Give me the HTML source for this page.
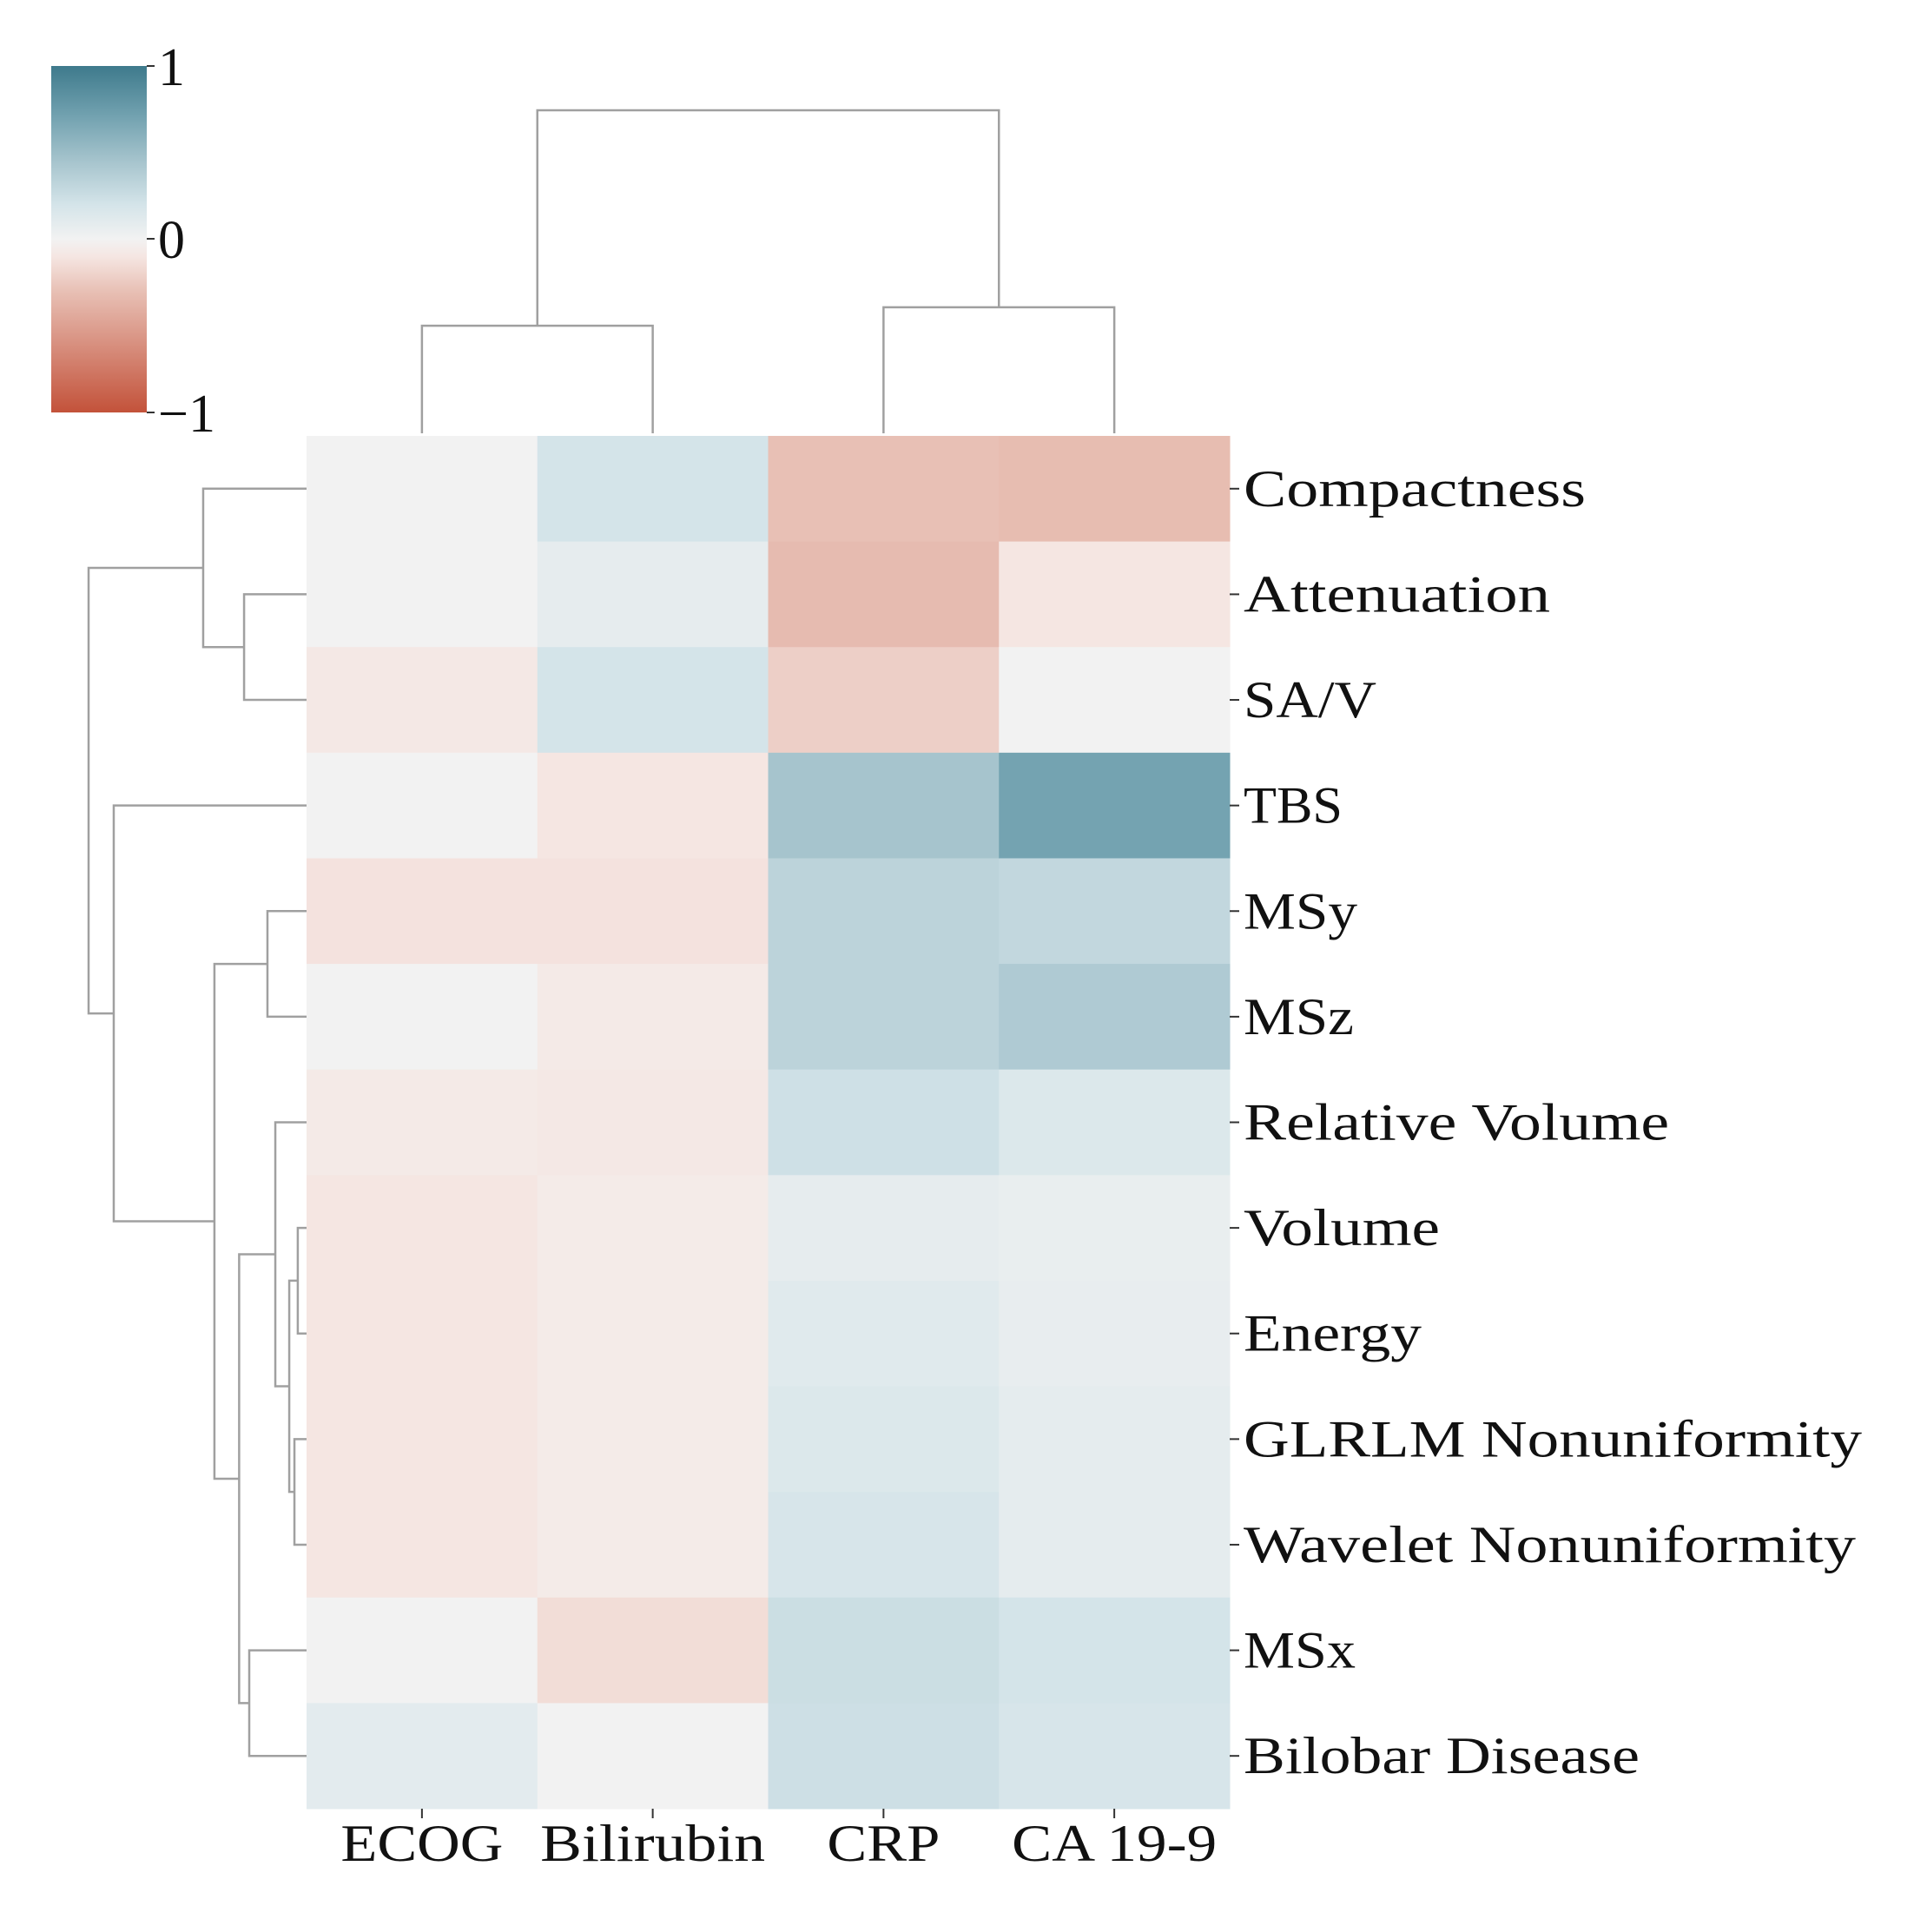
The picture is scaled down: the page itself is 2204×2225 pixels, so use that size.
<!DOCTYPE html>
<html><head><meta charset="utf-8"><style>
html,body{margin:0;padding:0;background:#fff;}
svg{display:block;}
text{font-family:"Liberation Serif",serif;fill:#111;}
</style></head><body>
<svg id="chart" width="2204" height="2225" viewBox="0 0 2204 2225" xmlns="http://www.w3.org/2000/svg">
<defs>
<linearGradient id="cbar" x1="0" y1="1" x2="0" y2="0">
<stop offset="0" stop-color="#c3523a"/>
<stop offset="0.35" stop-color="#e8c0b5"/>
<stop offset="0.45" stop-color="#f5e6e2"/>
<stop offset="0.5" stop-color="#f2f2f2"/>
<stop offset="0.6" stop-color="#d4e4e9"/>
<stop offset="0.725" stop-color="#a6c4cd"/>
<stop offset="0.85" stop-color="#74a3b1"/>
<stop offset="1" stop-color="#3e7a8c"/>
</linearGradient>
</defs>
<g id="colorbar">
<rect x="59" y="76" width="110" height="399" fill="url(#cbar)"/>
<line x1="169" y1="76" x2="178" y2="76" stroke="#333" stroke-width="2"/>
<line x1="169" y1="275" x2="178" y2="275" stroke="#333" stroke-width="2"/>
<line x1="169" y1="475" x2="178" y2="475" stroke="#333" stroke-width="2"/>
<text x="182" y="98" font-size="62">1</text>
<text x="182" y="297" font-size="62">0</text>
<text x="182" y="497" font-size="62">−1</text>
</g>
<g id="heat"></g>
<g id="dendro" fill="none" stroke="#a0a0a0" stroke-width="2.5"></g>
<g id="labels"></g>
</svg>
<script>
const rowLabels = ["Compactness","Attenuation","SA/V","TBS","MSy","MSz","Relative Volume","Volume","Energy","GLRLM Nonuniformity","Wavelet Nonuniformity","MSx","Bilobar Disease"];
const colLabels = ["ECOG","Bilirubin","CRP","CA 19-9"];
const ecogValues = [0,0,-0.08,0,-0.12,0,-0.07,-0.1,-0.1,-0.1,-0.1,0,0.1];
const bilirubinValues = [0.2,0.08,0.2,-0.1,-0.12,-0.07,-0.08,-0.06,-0.06,-0.06,-0.06,-0.15,0];
const crpValues = [-0.3,-0.33,-0.22,0.45,0.33,0.33,0.23,0.08,0.12,0.15,0.18,0.25,0.24];
const ca199Values = [-0.32,-0.1,0,0.7,0.3,0.4,0.15,0.06,0.07,0.09,0.09,0.2,0.18];
const rowLabelWidths = [394,353,153,114,131,127,490,226,205,712,705,129,456];
const colLabelWidths = [187,259,130,236];
// dendrogram merges [nodeA, nodeB, distance]; new nodes numbered after leaves
const rowLinks = [[1,2,0.278],[0,13,0.46],[4,5,0.174],[7,8,0.039],[9,10,0.054],[16,17,0.077],[6,18,0.139],[11,12,0.255],[19,20,0.30],[15,21,0.41],[3,22,0.858],[14,23,0.97]];
const colLinks = [[0,1,0.333],[2,3,0.39],[4,5,1.0]];

const svg = document.getElementById('chart');
const NS = 'http://www.w3.org/2000/svg';
const HX0 = 353, HX1 = 1416, HY0 = 502, HY1 = 2083;
const cw = (HX1-HX0)/colLabels.length, rh = (HY1-HY0)/rowLabels.length;
const xCol = i => HX0 + cw*i;
const yRow = i => HY0 + rh*i;
const posStops=[[0,[242,242,242]],[0.2,[212,228,233]],[0.45,[166,196,205]],[0.7,[116,163,177]],[1,[62,122,140]]];
const negStops=[[0,[242,242,242]],[0.1,[245,230,226]],[0.3,[232,192,181]],[1,[195,82,58]]];
function color(v){
  const st=v<0?negStops:posStops; const t=Math.min(1,Math.abs(v));
  let i=0; while(i<st.length-2 && t>st[i+1][0]) i++;
  const [a,ca]=st[i],[b,cb]=st[i+1]; const f=(t-a)/(b-a);
  const c=ca.map((m,k)=>Math.round(m+(cb[k]-m)*f));
  return `rgb(${c[0]},${c[1]},${c[2]})`;
}
const series=[ecogValues,bilirubinValues,crpValues,ca199Values];
const heat=document.getElementById('heat');
series.forEach((vals,c)=>vals.forEach((v,r)=>{
  const rc=document.createElementNS(NS,'rect');
  
  
  rc.setAttribute('x',xCol(c)); rc.setAttribute('y',yRow(r));
  rc.setAttribute('width',cw+0.5); rc.setAttribute('height',rh+0.5);
  rc.setAttribute('fill',color(v));
  heat.appendChild(rc);
}));
const labels=document.getElementById('labels');
rowLabels.forEach((lab,r)=>{
  const cy=yRow(r)+rh/2;
  const tk=document.createElementNS(NS,'line');
  
  
  tk.setAttribute('x1',HX1);tk.setAttribute('x2',HX1+11);tk.setAttribute('y1',cy);tk.setAttribute('y2',cy);
  tk.setAttribute('stroke','#333');tk.setAttribute('stroke-width','2');
  labels.appendChild(tk);
  const t=document.createElementNS(NS,'text');
  
  
  t.setAttribute('x',HX1+16);t.setAttribute('y',cy+20);t.setAttribute('font-size','60');
  t.setAttribute('textLength',rowLabelWidths[r]);t.setAttribute('lengthAdjust','spacingAndGlyphs');
  t.textContent=lab; labels.appendChild(t);
});
colLabels.forEach((lab,c)=>{
  const cx=xCol(c)+cw/2;
  const tk=document.createElementNS(NS,'line');
  
  
  tk.setAttribute('x1',cx);tk.setAttribute('x2',cx);tk.setAttribute('y1',HY1);tk.setAttribute('y2',HY1+11);
  tk.setAttribute('stroke','#333');tk.setAttribute('stroke-width','2');
  labels.appendChild(tk);
  const t=document.createElementNS(NS,'text');
  
  
  t.setAttribute('x',cx);t.setAttribute('y',2143);t.setAttribute('font-size','60');t.setAttribute('text-anchor','middle');
  t.setAttribute('textLength',colLabelWidths[c]);t.setAttribute('lengthAdjust','spacingAndGlyphs');
  t.textContent=lab; labels.appendChild(t);
});
const dendro=document.getElementById('dendro');
function addPath(d,name){
  const p=document.createElementNS(NS,'path');
  
  
  p.setAttribute('d',d); dendro.appendChild(p);
}
const rdx = h => HX0 - h*(HX0-102)/0.97;
let rpos=rowLabels.map((_,i)=>({p:yRow(i)+rh/2,h:0}));
rowLinks.forEach(([a,b,h])=>{
  const A=rpos[a],B=rpos[b],x=rdx(h);
  addPath(`M${rdx(A.h)},${A.p}H${x}V${B.p}H${rdx(B.h)}`,'row-dendrogram-link');
  rpos.push({p:(A.p+B.p)/2,h:h});
});
const cdy = h => HY0 - 3 - h*(HY0-3-127);
let cpos=colLabels.map((_,i)=>({p:xCol(i)+cw/2,h:0}));
colLinks.forEach(([a,b,h])=>{
  const A=cpos[a],B=cpos[b],y=cdy(h);
  addPath(`M${A.p},${cdy(A.h)}V${y}H${B.p}V${cdy(B.h)}`,'col-dendrogram-link');
  cpos.push({p:(A.p+B.p)/2,h:h});
});
</script>
</body></html>
